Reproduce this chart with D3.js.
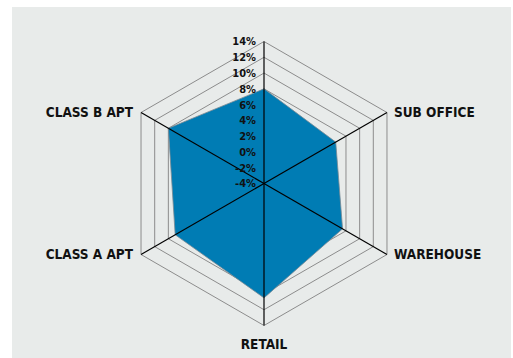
<!DOCTYPE html>
<html lang="en">
<head>
<meta charset="UTF-8">
<script src="https://d3js.org/d3.v7.min.js"></script>
<style>
body { margin: 0; background: #fff; }
svg { display: block; }
.axis-label { font-family: "DejaVu Sans Condensed", "Liberation Sans Narrow", "DejaVu Sans", sans-serif; font-weight: bold; font-size: 13.5px; fill: #111; }
.tick-label { font-family: "DejaVu Sans Condensed", "Liberation Sans Narrow", "DejaVu Sans", sans-serif; font-weight: bold; font-size: 11px; fill: #111; }
</style>
</head>
<body>
<div id="chart"></div>
<script>
// categories, clockwise from the top spoke (the top one has no label)
var categories = ["", "SUB OFFICE", "WAREHOUSE", "RETAIL", "CLASS A APT", "CLASS B APT"];
var values = [8, 6.5, 7.5, 10.5, 9, 10];
var ticks = [-4, -2, 0, 2, 4, 6, 8, 10, 12, 14];

var W = 513, H = 358;
var cx = 264, cy = 183.5, R = 142;

var svg = d3.select("#chart").append("svg")
    .attr("width", W)
    .attr("height", H);

// grey panel
svg.append("rect")
    .attr("x", 12).attr("y", 7)
    .attr("width", 499).attr("height", H - 7)
    .attr("fill", "#e8ebea");

var g = svg.append("g")
    .attr("transform", "translate(" + cx + "," + cy + ")");

var r = d3.scaleLinear()
    .domain([-4, 14])
    .range([0, R]);

var angle = function(i) { return i * 2 * Math.PI / categories.length; };
var pt = function(i, v) {
  return [Math.sin(angle(i)) * r(v), -Math.cos(angle(i)) * r(v)];
};

// rings
ticks.slice(1).forEach(function(t) {
  g.append("polygon")
    .attr("points", categories.map(function(c, i) { return pt(i, t).join(","); }).join(" "))
    .attr("fill", "none")
    .attr("stroke", "#8c8c8c")
    .attr("stroke-width", 1);
});

// data polygon
g.append("polygon")
  .attr("points", values.map(function(v, i) { return pt(i, v).join(","); }).join(" "))
  .attr("fill", "#007cb4")
  .attr("stroke", "#7a8a94")
  .attr("stroke-width", 0.8);

// spokes
categories.forEach(function(c, i) {
  var p = pt(i, 14);
  g.append("line")
    .attr("x1", 0).attr("y1", 0)
    .attr("x2", p[0]).attr("y2", p[1])
    .attr("stroke", "#000")
    .attr("stroke-width", 1.2);
});

// tick labels along the top spoke
g.selectAll(".tick-label")
  .data(ticks)
  .enter().append("text")
    .attr("class", "tick-label")
    .attr("x", -8)
    .attr("y", function(d) { return -r(d); })
    .attr("dy", "0.36em")
    .attr("text-anchor", "end")
    .text(function(d) { return d + "%"; });

// category labels
categories.forEach(function(c, i) {
  if (!c) return;
  var p = pt(i, 14);
  var s = Math.sin(angle(i));
  var anchor = Math.abs(s) < 0.01 ? "middle" : (s > 0 ? "start" : "end");
  var dx = Math.abs(s) < 0.01 ? 0 : (s > 0 ? 7 : -8);
  var dy = Math.abs(s) < 0.01 ? 23 : 4.5;
  g.append("text")
    .attr("class", "axis-label")
    .attr("x", p[0] + dx)
    .attr("y", p[1] + dy)
    .attr("text-anchor", anchor)
    .text(c);
});
</script>
</body>
</html>
